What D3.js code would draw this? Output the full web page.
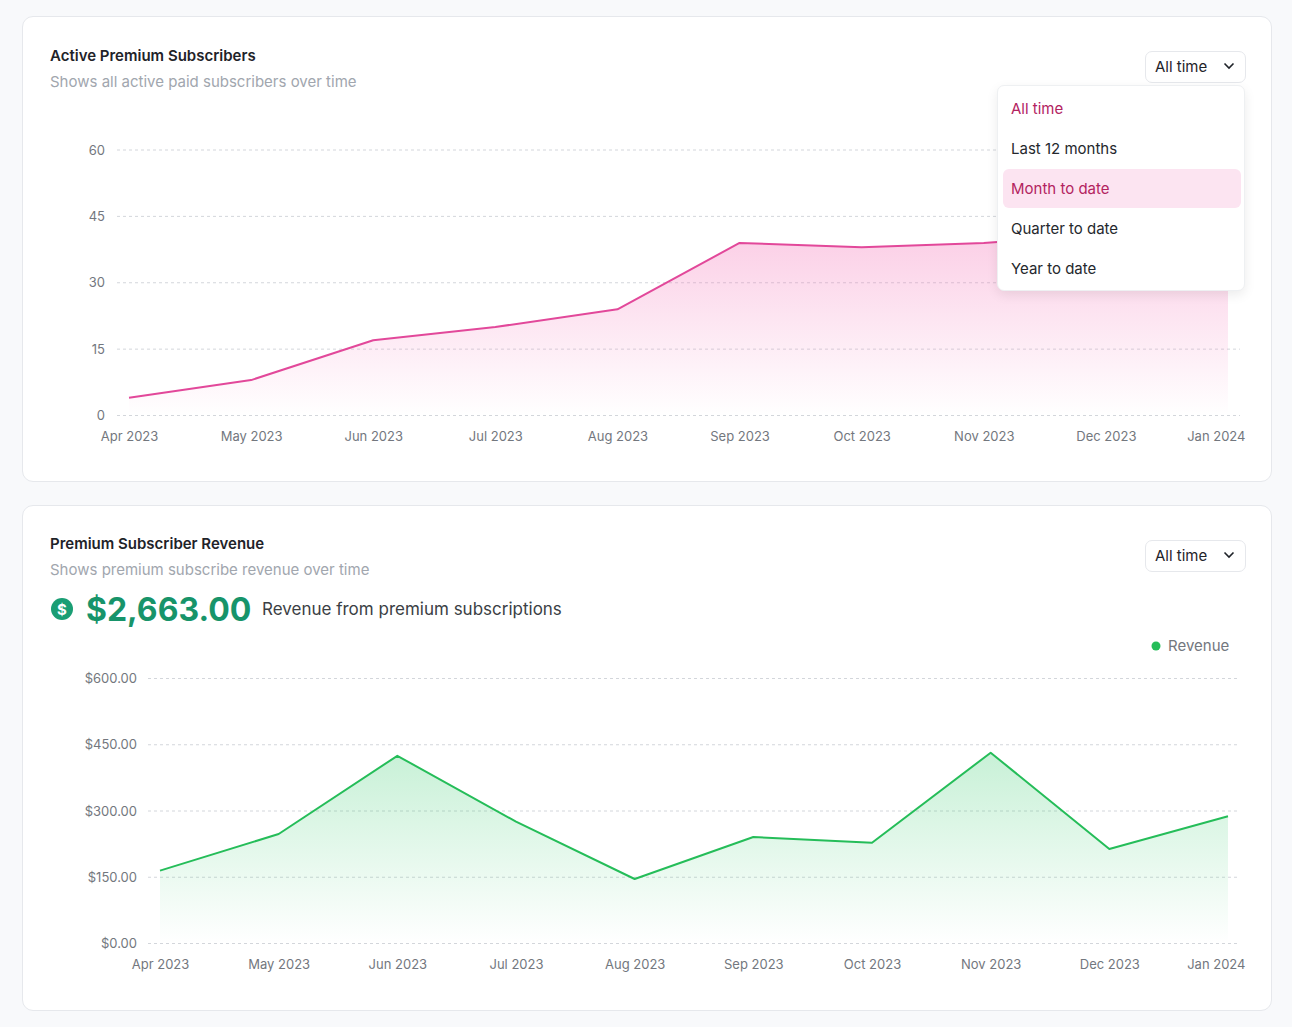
<!DOCTYPE html>
<html>
<head>
<meta charset="utf-8">
<script src="https://cdn.jsdelivr.net/npm/d3@7"></script>
<style>
  body { margin: 0; background: #f8f9fb; font-family: Inter, "Noto Sans", sans-serif; }
  .card { position: absolute; left: 22px; width: 1250px; background: #fff; border: 1px solid #e6e8ec; border-radius: 11px; box-sizing: border-box; }
  .title { position: absolute; left: 27px; font-size: 15px; font-weight: 600; color: #1f2329; }
  .sub { position: absolute; left: 27px; font-size: 15px; color: #a1a6ae; }
  .btn { position: absolute; left: 1122px; width: 101px; height: 32px; border: 1px solid #e6e8ec; border-radius: 7px; box-sizing: border-box; font-size: 15px; color: #1f2329; line-height: 30px; padding-left: 9px; }
  .btn svg { position: absolute; right: 10px; top: 10px; }
  .menu { position: absolute; left: 997px; top: 85px; width: 248px; height: 206px; background: #fff; border: 1px solid #eef0f2; border-radius: 7px; box-sizing: border-box; box-shadow: 0 4px 12px rgba(0,0,0,0.08); }
  .item { position: absolute; left: 5px; width: 238px; height: 39px; border-radius: 6px; font-size: 15px; color: #25282d; line-height: 39px; padding-left: 8px; box-sizing: border-box; }
  svg.chart { position: absolute; left: 0; top: 0; }
  .tick text { font-family: Inter, "Noto Sans", sans-serif; font-size: 13px; fill: #73777e; }
</style>
</head>
<body>
<div class="card" style="top:16px;height:466px;">
  <div class="title" style="top:29px;">Active Premium Subscribers</div>
  <div class="sub" style="top:55px;">Shows all active paid subscribers over time</div>
  <div class="btn" style="top:34px;">All time<svg width="12" height="8"><path d="M1.5 1.5 L6 6 L10.5 1.5" fill="none" stroke="#1f2329" stroke-width="1.6"/></svg></div>
</div>
<div class="card" style="top:505px;height:506px;">
  <div class="title" style="top:28px;">Premium Subscriber Revenue</div>
  <div class="sub" style="top:54px;">Shows premium subscribe revenue over time</div>
  <div class="btn" style="top:34px;">All time<svg width="12" height="8"><path d="M1.5 1.5 L6 6 L10.5 1.5" fill="none" stroke="#1f2329" stroke-width="1.6"/></svg></div>
</div>
<svg class="chart" id="charts" width="1292" height="1027"></svg>
<div class="menu" id="menu"></div>
<script>
// chart data
var months = ["Apr 2023", "May 2023", "Jun 2023", "Jul 2023", "Aug 2023",
  "Sep 2023", "Oct 2023", "Nov 2023", "Dec 2023", "Jan 2024"];
var subscribers = [4, 8, 17, 20, 24, 39, 38, 39, 41, 43];
var revenue = [165, 248, 425, 276, 146, 241, 228, 432, 214, 288];
var subscriberTicks = [0, 15, 30, 45, 60];
var revenueTicks = [0, 150, 300, 450, 600];
var rangeOptions = ["All time", "Last 12 months", "Month to date", "Quarter to date", "Year to date"];
var revenueTotal = "$2,663.00";

var svg = d3.select("#charts");
var defs = svg.append("defs");

function gradient(id, color, top) {
  var g = defs.append("linearGradient").attr("id", id)
    .attr("x1", 0).attr("y1", 0).attr("x2", 0).attr("y2", 1);
  g.append("stop").attr("offset", "0%").attr("stop-color", color).attr("stop-opacity", top);
  g.append("stop").attr("offset", "100%").attr("stop-color", color).attr("stop-opacity", 0);
}
gradient("pinkFill", "#f472b6", 0.36);
gradient("greenFill", "#22c55e", 0.25);

// draws one line chart with dashed grid, area and axes
function drawChart(opt) {
  var x = d3.scalePoint().domain(months).range([opt.x0, opt.x1]);
  var y = d3.scaleLinear().domain([0, d3.max(opt.ticks)]).range([opt.y0, opt.y1]);
  var g = svg.append("g");

  // grid
  g.selectAll(".grid").data(opt.ticks).enter().append("line")
    .attr("x1", opt.gridLeft).attr("x2", 1240)
    .attr("y1", d => y(d)).attr("y2", d => y(d))
    .attr("stroke", "#d3d6db").attr("stroke-dasharray", "3 3");

  var pts = opt.values.map((v, i) => [months[i], v]);
  var area = d3.area().x(d => x(d[0])).y0(y(0)).y1(d => y(d[1]));
  var line = d3.line().x(d => x(d[0])).y(d => y(d[1]));

  g.append("path").datum(pts).attr("d", area).attr("fill", "url(#" + opt.fill + ")");
  g.append("path").datum(pts).attr("d", line)
    .attr("fill", "none").attr("stroke", opt.color).attr("stroke-width", 2)
    .attr("stroke-linejoin", "round");

  var leftAxis = d3.axisLeft(y).tickValues(opt.ticks).tickSize(0).tickPadding(0).tickFormat(opt.format);
  g.append("g").attr("transform", `translate(${opt.labelRight},0)`).call(leftAxis)
    .call(a => a.select(".domain").remove());

  var bottomAxis = d3.axisBottom(x).tickSize(0).tickPadding(16);
  var xa = g.append("g").attr("transform", `translate(0,${opt.y0})`).call(bottomAxis);
  xa.select(".domain").remove();
  xa.selectAll(".tick").filter((d, i) => i === months.length - 1)
    .select("text").attr("text-anchor", "end").attr("x", 17);
  return g;
}

drawChart({
  values: subscribers, ticks: subscriberTicks, format: d3.format("d"),
  x0: 129, x1: 1228, y0: 415.5, y1: 150, gridLeft: 117, labelRight: 105,
  color: "#e2489a", fill: "pinkFill"
});

drawChart({
  values: revenue, ticks: revenueTicks, format: d => "$" + d3.format(",.2f")(d),
  x0: 160, x1: 1228, y0: 943.5, y1: 678.5, gridLeft: 148, labelRight: 137,
  color: "#25bd59", fill: "greenFill"
});

// revenue headline
svg.append("circle").attr("cx", 62).attr("cy", 609).attr("r", 11).attr("fill", "#1a9e74");
svg.append("text").attr("x", 62).attr("y", 614.5).attr("text-anchor", "middle")
  .attr("font-size", 15).attr("font-weight", 700).attr("fill", "#fff")
  .attr("font-family", "Inter, sans-serif").text("$");
svg.append("text").attr("x", 86).attr("y", 621).attr("font-size", 32).attr("font-weight", 700)
  .attr("fill", "#17946a").attr("font-family", "Inter, sans-serif").text(revenueTotal);
svg.append("text").attr("x", 262).attr("y", 615).attr("font-size", 17)
  .attr("fill", "#3b3f45").attr("font-family", "Inter, sans-serif").text("Revenue from premium subscriptions");

// legend
svg.append("circle").attr("cx", 1156).attr("cy", 646).attr("r", 4.5).attr("fill", "#25bd59");
svg.append("text").attr("x", 1168).attr("y", 651).attr("font-size", 15)
  .attr("fill", "#73777e").attr("font-family", "Inter, sans-serif").text("Revenue");

// open dropdown menu
d3.select("#menu").selectAll(".item").data(rangeOptions).enter().append("div")
  .attr("class", "item")
  .style("top", (d, i) => (3 + i * 40) + "px")
  .style("background", d => d === "Month to date" ? "#fce4f1" : "none")
  .style("color", d => (d === "All time" || d === "Month to date") ? "#b3235f" : "#25282d")
  .text(d => d);
</script>
</body>
</html>
